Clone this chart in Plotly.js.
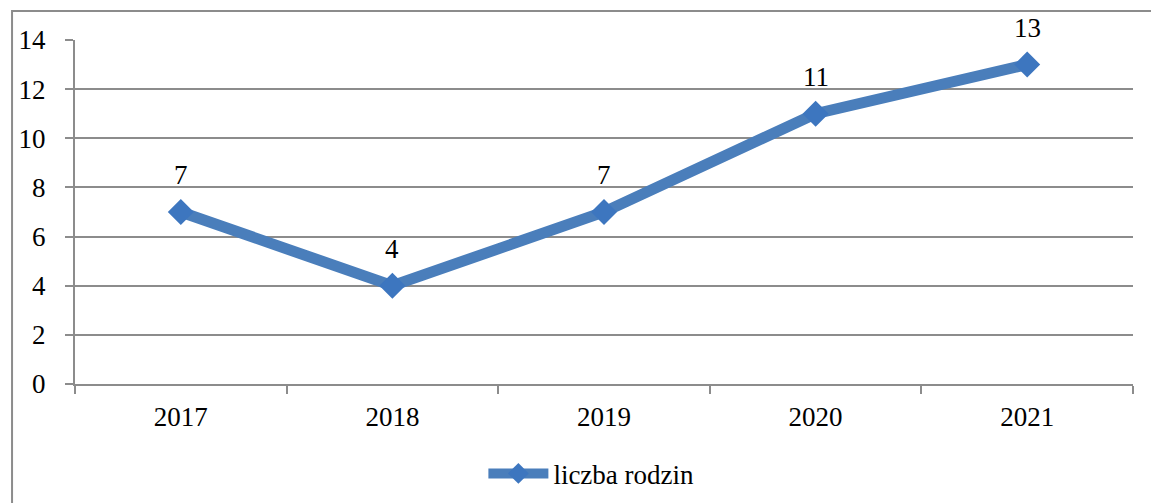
<!DOCTYPE html>
<html>
<head>
<meta charset="utf-8">
<script src="https://cdn.plot.ly/plotly-3.0.1.min.js"></script>
<style>
html,body{margin:0;padding:0;background:#fff;}
#chart{width:1151px;height:503px;}
</style>
</head>
<body>
<div id="chart"></div>
<script>
var years = ['2017', '2018', '2019', '2020', '2021'];
var families = [7, 4, 7, 11, 13];
var seriesName = 'liczba rodzin';
var yTicks = [0, 2, 4, 6, 8, 10, 12, 14];

var FONT = 'Liberation Serif';
var FS = 27;
var GRID = '#8c8c8c';

var trace = {
  x: years,
  y: families,
  type: 'scatter',
  mode: 'lines+markers',
  name: seriesName,
  line: {color: '#4a7ebb', width: 11},
  marker: {symbol: 'diamond', size: 20, color: '#3d76bf', line: {width: 0}},
  hoverinfo: 'x+y'
};

var annotations = years.map(function (yr, i) {
  return {
    x: i, y: families[i], xref: 'x', yref: 'y',
    text: String(families[i]), showarrow: false,
    yshift: 37, font: {family: FONT, size: FS, color: '#000'}
  };
});

var layout = {
  width: 1151, height: 503,
  margin: {l: 75, r: 18, t: 40, b: 119},
  paper_bgcolor: '#fff', plot_bgcolor: '#fff',
  font: {family: FONT, size: FS, color: '#000'},
  showlegend: true,
  legend: {
    orientation: 'h', x: 0.386, xanchor: 'left',
    yref: 'container', y: 0.058, yanchor: 'middle',
    font: {family: FONT, size: FS, color: '#000'}, itemwidth: 60,
    bgcolor: 'rgba(0,0,0,0)'
  },
  xaxis: {
    type: 'category', range: [-0.5, 4.5],
    showgrid: false, zeroline: false,
    showline: true, linecolor: GRID, linewidth: 2,
    ticks: 'outside', tickson: 'boundaries', ticklen: 8, tickwidth: 2, tickcolor: GRID,
    tickfont: {family: FONT, size: FS, color: '#000'},
    ticklabelstandoff: 8
  },
  yaxis: {
    range: [0, 14], tickvals: yTicks,
    showgrid: true, gridcolor: GRID, gridwidth: 2,
    zeroline: false,
    showline: true, linecolor: GRID, linewidth: 2,
    ticks: 'outside', ticklen: 8, tickwidth: 2, tickcolor: GRID,
    tickfont: {family: FONT, size: FS, color: '#000'},
    ticklabelstandoff: 14
  },
  annotations: annotations,
  shapes: [{
    type: 'rect', xref: 'paper', yref: 'paper',
    x0: -0.0595, x1: 1.5, y0: -1.5, y1: 1.084,
    line: {color: '#8c8c8c', width: 2}, fillcolor: 'rgba(0,0,0,0)', layer: 'below'
  }]
};

Plotly.newPlot('chart', [trace], layout, {displayModeBar: false, staticPlot: true});
</script>
</body>
</html>
